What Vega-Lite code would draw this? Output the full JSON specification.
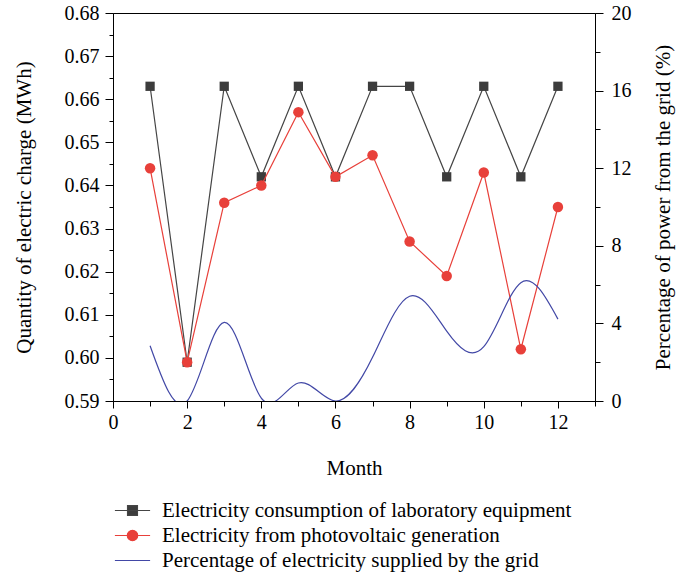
{
  "$schema": "https://vega.github.io/schema/vega-lite/v6.json",
  "width": 482,
  "height": 388,
  "autosize": "none",
  "padding": {"left": 113, "top": 13, "right": 82, "bottom": 179},
  "background": "white",
  "config": {
    "view": {"stroke": "black", "strokeWidth": 1},
    "font": "Liberation Serif",
    "axis": {
      "domainColor": "black",
      "tickColor": "black",
      "labelColor": "black",
      "titleColor": "black",
      "labelFont": "Liberation Serif",
      "titleFont": "Liberation Serif",
      "labelFontSize": 20,
      "titleFontSize": 21,
      "titleFontWeight": "normal",
      "grid": false
    },
    "legend": {
      "labelFont": "Liberation Serif",
      "labelFontSize": 21,
      "labelColor": "black",
      "labelLimit": 0
    }
  },
  "data": {
    "values": [
      {"month": 1, "cons": 0.663, "pv": 0.644, "grid": 2.85},
      {"month": 2, "cons": 0.599, "pv": 0.599, "grid": 0.0},
      {"month": 3, "cons": 0.663, "pv": 0.636, "grid": 4.05},
      {"month": 4, "cons": 0.642, "pv": 0.640, "grid": 0.15},
      {"month": 5, "cons": 0.663, "pv": 0.657, "grid": 0.93},
      {"month": 6, "cons": 0.642, "pv": 0.642, "grid": 0.0},
      {"month": 7, "cons": 0.663, "pv": 0.647, "grid": 2.25},
      {"month": 8, "cons": 0.663, "pv": 0.627, "grid": 5.4},
      {"month": 9, "cons": 0.642, "pv": 0.619, "grid": 3.6},
      {"month": 10, "cons": 0.663, "pv": 0.643, "grid": 2.8},
      {"month": 11, "cons": 0.642, "pv": 0.602, "grid": 6.1},
      {"month": 12, "cons": 0.663, "pv": 0.635, "grid": 4.22}
    ]
  },
  "encoding": {
    "x": {
      "field": "month",
      "type": "quantitative",
      "scale": {"domain": [0, 13], "nice": false, "zero": false},
      "axis": {
        "title": "Month",
        "titlePadding": 25,
        "values": [0,1,2,3,4,5,6,7,8,9,10,11,12,13],
        "labelExpr": "datum.value % 2 == 0 ? datum.label : ''",
        "tickSize": {"condition": {"test": "datum.value % 2 == 0", "value": 7}, "value": 5},
        "labelPadding": 4,
        "labelFlush": false,
        "labelOverlap": false
      }
    },
    "color": {
      "datum": "Electricity consumption of laboratory equipment",
      "type": "nominal",
      "scale": {
        "domain": ["Electricity consumption of laboratory equipment", "Electricity from photovoltaic generation", "Percentage of electricity supplied by the grid"],
        "range": ["#454545", "#e8403a", "#4248a6"]
      },
      "legend": {
        "title": null,
        "orient": "none",
        "legendX": 9,
        "legendY": 487,
        "direction": "vertical",
        "symbolSize": 256,
        "labelOffset": 19,
        "rowPadding": 3,
        "labelLimit": 0,
        "encode": {
          "symbols": {
            "update": {
              "shape": {"signal": "datum.value === 'Electricity consumption of laboratory equipment' ? 'M-2.2,0H2.2M-0.62,-0.62H0.62V0.62H-0.62Z' : (datum.value === 'Electricity from photovoltaic generation' ? 'M-2.2,0H2.2M0.65,0A0.65,0.65 0 1,1 -0.65,0A0.65,0.65 0 1,1 0.65,0Z' : 'M-2.2,0H2.2')"},
              "fill": {"signal": "datum.value === 'Electricity consumption of laboratory equipment' ? '#3c3c3c' : (datum.value === 'Electricity from photovoltaic generation' ? '#e8403a' : 'transparent')"},
              "stroke": {"signal": "datum.value === 'Electricity consumption of laboratory equipment' ? '#454545' : (datum.value === 'Electricity from photovoltaic generation' ? '#e8403a' : '#4248a6')"},
              "strokeWidth": {"value": 1.2},
              "opacity": {"value": 1}
            }
          }
        }
      }
    }
  },
  "layer": [
    {
      "encoding": {
        "y": {
          "type": "quantitative",
          "scale": {"domain": [0.59, 0.68], "nice": false, "zero": false},
          "axis": {
            "title": "Quantity of electric charge (MWh)",
            "orient": "left",
            "titlePadding": 30,
            "values": [0.59,0.595,0.6,0.605,0.61,0.615,0.62,0.625,0.63,0.635,0.64,0.645,0.65,0.655,0.66,0.665,0.67,0.675,0.68],
            "labelExpr": "abs(datum.value*100 - round(datum.value*100)) < 0.01 ? format(datum.value, '.2f') : ''",
            "tickSize": {"condition": {"test": "abs(datum.value*100 - round(datum.value*100)) < 0.01", "value": 8}, "value": 4},
            "labelPadding": 6,
            "labelFlush": false,
            "labelOverlap": false
          }
        }
      },
      "layer": [
        {
          "mark": {"type": "line", "strokeWidth": 1.2},
          "encoding": {
            "y": {"field": "cons", "type": "quantitative"},
            "color": {"datum": "Electricity consumption of laboratory equipment", "type": "nominal"}
          }
        },
        {
          "mark": {"type": "point", "shape": "square", "filled": true, "size": 86, "opacity": 1, "color": "#3c3c3c"},
          "encoding": {
            "y": {"field": "cons", "type": "quantitative"},
            "color": {"value": "#3c3c3c"}
          }
        },
        {
          "mark": {"type": "line", "strokeWidth": 1.2},
          "encoding": {
            "y": {"field": "pv", "type": "quantitative"},
            "color": {"datum": "Electricity from photovoltaic generation", "type": "nominal"}
          }
        },
        {
          "mark": {"type": "point", "shape": "circle", "filled": true, "size": 110, "opacity": 1, "color": "#e8403a"},
          "encoding": {
            "y": {"field": "pv", "type": "quantitative"},
            "color": {"value": "#e8403a"}
          }
        }
      ]
    },
    {
      "mark": {"type": "line", "strokeWidth": 1.2, "interpolate": "natural", "clip": true},
      "encoding": {
        "y": {
          "field": "grid",
          "type": "quantitative",
          "scale": {"domain": [0, 20], "nice": false, "zero": false},
          "axis": {
            "title": "Percentage of power from the grid (%)",
            "orient": "right",
            "titleAngle": 270,
            "titlePadding": 42,
            "values": [0,2,4,6,8,10,12,14,16,18,20],
            "labelExpr": "datum.value % 4 == 0 ? datum.label : ''",
            "tickSize": {"condition": {"test": "datum.value % 4 == 0", "value": 8}, "value": 5},
            "labelPadding": 8,
            "labelFlush": false,
            "labelOverlap": false
          }
        },
        "color": {"datum": "Percentage of electricity supplied by the grid", "type": "nominal"}
      }
    }
  ],
  "resolve": {"scale": {"y": "independent"}}
}
